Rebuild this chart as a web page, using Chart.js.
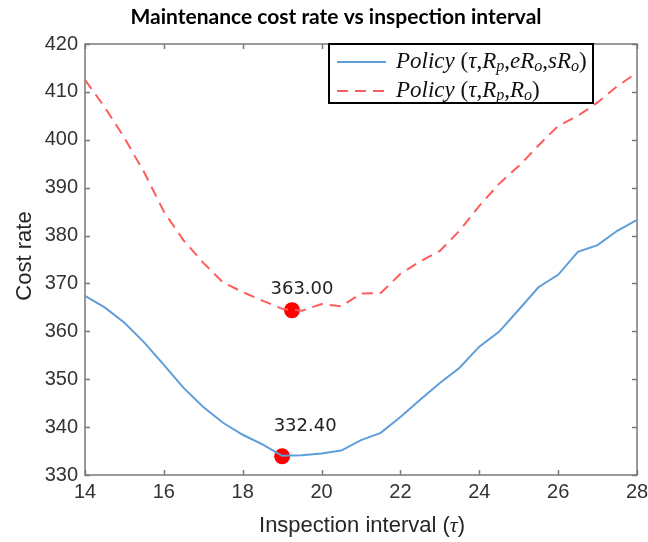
<!DOCTYPE html>
<html>
<head>
<meta charset="utf-8">
<script src="https://cdn.jsdelivr.net/npm/chart.js@4/dist/chart.umd.min.js"></script>
<style>
  html, body { margin: 0; padding: 0; background: #fff; }
</style>
</head>
<body>
<canvas id="chart" width="648" height="542"></canvas>
<script>
// inspection interval (tau)
const tau = [14, 14.5, 15, 15.5, 16, 16.5, 17, 17.5, 18, 18.5, 19, 19.5, 20, 20.5, 21,
             21.5, 22, 22.5, 23, 23.5, 24, 24.5, 25, 25.5, 26, 26.5, 27, 27.5, 28];
// Policy (tau, Rp, eRo, sRo)
const costFull = [367.4, 365.0, 361.8, 357.7, 353.0, 348.2, 344.2, 340.9, 338.4, 336.4,
                  334.0, 334.1, 334.5, 335.1, 337.3, 338.8, 342.1, 345.7, 349.2, 352.4,
                  356.8, 359.9, 364.5, 369.2, 371.8, 376.6, 378.0, 381.0, 383.3];
// Policy (tau, Rp, Ro)
const costBasic = [412.5, 406.8, 400.4, 393.2, 385.0, 379.0, 374.3, 370.2, 368.2, 366.4,
                   364.7, 364.3, 365.7, 365.2, 367.9, 368.0, 372.0, 374.6, 376.8, 381.0,
                   386.2, 390.8, 394.5, 398.8, 402.9, 405.0, 407.8, 411.2, 414.0];
// optimum markers
const optTau = [19, 19.25];
const optCost = [333.9, 364.4];
const optLabels = ["332.40", "363.00"];

const xTicks = [14, 16, 18, 20, 22, 24, 26, 28];
const yTicks = [330, 340, 350, 360, 370, 380, 390, 400, 410, 420];

const chartTitle = "Maintenance cost rate vs inspection interval";

const blue = "#5f9ed8";
const red = "#ff5b5b";

const toPts = (xs, ys) => xs.map((v, i) => ({ x: v, y: ys[i] }));

// box + inward ticks, MATLAB style
const framePlugin = {
    id: "frame",
    beforeDatasetsDraw(chart) {
        const { ctx, chartArea: a, scales: { x, y } } = chart;
        ctx.save();
        ctx.strokeStyle = "#7a7a7a";
        ctx.lineWidth = 1.5;
        ctx.beginPath();
        x.ticks.forEach(t => {
            const px = Math.round(x.getPixelForValue(t.value)) + 0.5;
            ctx.moveTo(px, a.bottom); ctx.lineTo(px, a.bottom - 5);
            ctx.moveTo(px, a.top); ctx.lineTo(px, a.top + 5);
        });
        y.ticks.forEach(t => {
            const py = Math.round(y.getPixelForValue(t.value)) + 0.5;
            ctx.moveTo(a.left, py); ctx.lineTo(a.left + 5, py);
            ctx.moveTo(a.right, py); ctx.lineTo(a.right - 5, py);
        });
        ctx.stroke();
        ctx.strokeRect(a.left, a.top, a.right - a.left, a.bottom - a.top);
        ctx.restore();
    }
};

// text runs with italic / subscript parts
function drawRuns(ctx, runs, x, y, size) {
    runs.forEach(r => {
        const s = r.sub ? size * 0.7 : size;
        ctx.font = (r.i ? "italic " : "") + s + "px 'Liberation Serif'";
        ctx.fillText(r.t, x, r.sub ? y + size * 0.22 : y);
        x += ctx.measureText(r.t).width;
    });
}

const legendRows = [
    [{ t: "Policy", i: true }, { t: " (" }, { t: "τ", i: true }, { t: "," }, { t: "R", i: true },
     { t: "p", i: true, sub: true }, { t: "," }, { t: "eR", i: true }, { t: "o", i: true, sub: true },
     { t: "," }, { t: "sR", i: true }, { t: "o", i: true, sub: true }, { t: ")" }],
    [{ t: "Policy", i: true }, { t: " (" }, { t: "τ", i: true }, { t: "," }, { t: "R", i: true },
     { t: "p", i: true, sub: true }, { t: "," }, { t: "R", i: true }, { t: "o", i: true, sub: true },
     { t: ")" }]
];

const legendPlugin = {
    id: "boxLegend",
    afterDatasetsDraw(chart) {
        const { ctx, chartArea: a } = chart;
        const w = 264, h = 59;
        const left = a.right - 44 - w, top = a.top;
        ctx.save();
        ctx.fillStyle = "#fff";
        ctx.fillRect(left, top, w, h);
        ctx.strokeStyle = "#000";
        ctx.lineWidth = 2;
        ctx.strokeRect(left, top, w, h);
        [0, 1].forEach(i => {
            const ds = chart.data.datasets[i];
            const cy = top + 18 + i * 29;
            ctx.beginPath();
            ctx.strokeStyle = ds.borderColor;
            ctx.lineWidth = 2;
            ctx.setLineDash(ds.borderDash || []);
            ctx.moveTo(left + 8, cy);
            ctx.lineTo(left + 57, cy);
            ctx.stroke();
            ctx.setLineDash([]);
            ctx.fillStyle = "#111";
            ctx.textBaseline = "middle";
            drawRuns(ctx, legendRows[i], left + 67, cy, 23);
        });
        ctx.restore();
    }
};

const labelPlugin = {
    id: "optLabels",
    afterDatasetsDraw(chart, args, opts) {
        const { ctx } = chart;
        const meta = chart.getDatasetMeta(2);
        ctx.save();
        ctx.font = "18px 'DejaVu Sans'";
        ctx.fillStyle = "#222";
        ctx.textAlign = "center";
        ctx.textBaseline = "middle";
        meta.data.forEach((pt, i) => {
            const off = opts.offsets[i];
            ctx.fillText(optLabels[i], pt.x + off[0], pt.y + off[1]);
        });
        ctx.restore();
    }
};

const titles = {
    id: "titles",
    afterDraw(chart) {
        const { ctx } = chart;
        ctx.save();
        ctx.textBaseline = "middle";
        // main title
        ctx.fillStyle = "#000";
        ctx.textAlign = "center";
        ctx.font = "bold 21px Lato";
        ctx.fillText(chartTitle, 336, 17);
        ctx.textAlign = "left";
        // x title
        ctx.fillStyle = "#262626";
        const f = "22px 'Liberation Sans'";
        const fi = "italic 22px 'Liberation Serif'";
        ctx.font = f;
        const p1 = "Inspection interval (", p3 = ")";
        const w1 = ctx.measureText(p1).width, w3 = ctx.measureText(p3).width;
        ctx.font = fi;
        const w2 = ctx.measureText("τ").width;
        let x0 = 362 - (w1 + w2 + w3) / 2;
        const ty = 526;
        ctx.font = f; ctx.fillText(p1, x0, ty); x0 += w1;
        ctx.font = fi; ctx.fillText("τ", x0, ty); x0 += w2;
        ctx.font = f; ctx.fillText(p3, x0, ty);
        // y title
        ctx.translate(25, 256);
        ctx.rotate(-Math.PI / 2);
        ctx.textAlign = "center";
        ctx.font = f;
        ctx.fillText("Cost rate", 0, 0);
        ctx.restore();
    }
};

const tickFont = { family: "'Liberation Sans'", size: 20 };

new Chart(document.getElementById("chart").getContext("2d"), {
    type: "line",
    data: {
        datasets: [{
            label: "Policy (τ,Rp,eRo,sRo)",
            data: toPts(tau, costFull),
            borderColor: blue,
            borderWidth: 2,
            pointRadius: 0,
            tension: 0
        }, {
            label: "Policy (τ,Rp,Ro)",
            data: toPts(tau, costBasic),
            borderColor: red,
            borderWidth: 2,
            borderDash: [11, 7],
            pointRadius: 0,
            tension: 0
        }, {
            label: "optimum",
            data: toPts(optTau, optCost),
            showLine: false,
            pointRadius: 8,
            pointBackgroundColor: "#ff0000",
            pointBorderColor: "#ff0000",
            pointBorderWidth: 0
        }]
    },
    options: {
        responsive: false,
        animation: false,
        devicePixelRatio: 1,
        layout: { padding: { left: 0, right: 11, top: 44, bottom: 0 } },
        plugins: {
            legend: { display: false },
            tooltip: { enabled: false },
            title: { display: false },
            optLabels: { offsets: [[23, -30], [10, -21]] }
        },
        scales: {
            x: {
                type: "linear",
                min: 14, max: 28,
                grid: { display: false, drawTicks: false },
                border: { display: false },
                afterBuildTicks: s => { s.ticks = xTicks.map(v => ({ value: v })); },
                afterFit: s => { s.height = 67; s.paddingLeft = 0; s.paddingRight = 0; },
                ticks: { font: tickFont, color: "#333", padding: 5, maxRotation: 0 }
            },
            y: {
                min: 330, max: 420,
                grid: { display: false, drawTicks: false },
                border: { display: false },
                afterBuildTicks: s => { s.ticks = yTicks.map(v => ({ value: v })); },
                afterFit: s => { s.width = 85; s.paddingTop = 0; s.paddingBottom = 0; },
                ticks: { font: tickFont, color: "#333", padding: 7 }
            }
        }
    },
    plugins: [framePlugin, legendPlugin, labelPlugin, titles]
});
</script>
</body>
</html>
